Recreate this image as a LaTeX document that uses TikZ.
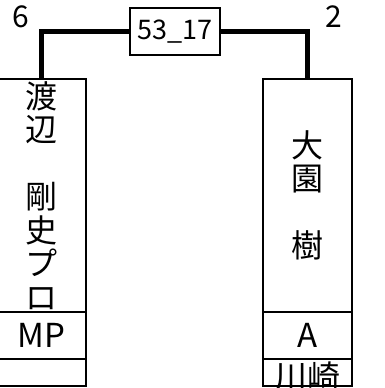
\documentclass[tikz,border=0pt]{standalone}
\usepackage{fontspec}
\setmainfont{Noto Sans CJK JP}
\tikzset{namebox/.style = {draw, line width = 2.5, minimum width = 89, minimum height = 233,
                           inner sep = 0, align = center, font = \fontsize{32}{33.5}\selectfont}}
\tikzset{rankbox/.style = {draw, line width = 2.5, minimum width = 89, minimum height = 47,
                           inner sep = 0, font = \fontsize{33}{34}\selectfont}}
\tikzset{areabox/.style = {draw, line width = 2.5, minimum width = 89, minimum height = 27, inner sep = 0}}
\tikzset{matchbox/.style = {draw, line width = 2.5, minimum width = 90, minimum height = 47,
                            inner sep = 0, font = \fontsize{27}{28}\selectfont}}
\tikzset{seed/.style = {inner sep = 0, font = \fontsize{30}{32}\selectfont}}
\tikzset{link/.style = {line width = 5}}

\begin{document}
\begin{tikzpicture}[x = 1pt, y = -1pt]
    \useasboundingbox (0, 0) rectangle (385, 388);

    % left player
    \node [namebox] (name1) at (41.5, 195.5) {渡\\辺\\　\\剛\\史\\プ\\ロ};
    \node [rankbox] (rank1) at (41.5, 335.5) {MP};
    \node [areabox] (area1) at (41.5, 372.5) {};

    % right player
    \node [namebox] (name2) at (307.5, 195.5) {大\\園\\　\\樹};
    \node [rankbox] (rank2) at (307.5, 335.5) {A};
    \node [areabox] (area2) at (307.5, 372.5) {};
    \begin{scope}
      \clip (area2.south west) rectangle (area2.north east);
      \node [seed, font = \fontsize{33}{33.5}\selectfont] (club2) at (307.5, 377) {川崎};
    \end{scope}

    \node [matchbox] (match) at (175, 31.5) {53\_17};
    \node [seed] (seed1) at (21, 17) {6};
    \node [seed] (seed2) at (334, 17) {2};

    \draw [link] (name1.north) |- (match.west);
    \draw [link] (match.east) -| (name2.north);
\end{tikzpicture}
\end{document}
